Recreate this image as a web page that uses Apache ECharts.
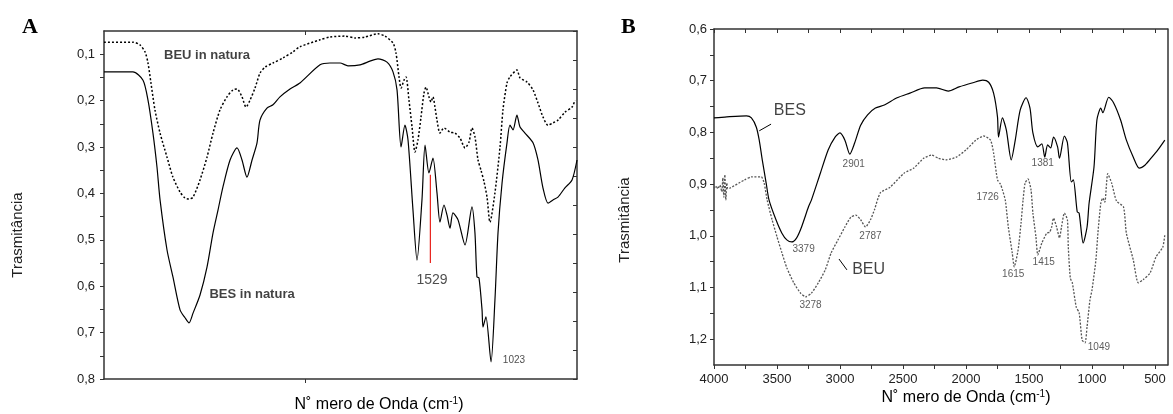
<!DOCTYPE html>
<html><head><meta charset="utf-8">
<script src="https://cdn.jsdelivr.net/npm/echarts@6/dist/echarts.min.js"></script>
<style>html,body{margin:0;padding:0;background:#fff}#c{width:1173px;height:414px}</style>
</head><body><div id="c"></div>
<script>
// ---------- Panel A data (wavenumber cm-1, transmittance) ----------
const aBesWave = [4300,4055,3970,3928,3886,3852,3826,3767,3717,3657,3615,3581,3547,3488,3429,3378,3336,3294,3234,3175,3133,3091,3048,3006,2981,2922,2871,2812,2727,2643,2473,2389,2304,2237,2135,2051,1983,1907,1856,1822,1788,1755,1729,1687,1653,1611,1585,1552,1518,1484,1459,1425,1399,1374,1349,1306,1247,1188,1163,1146,1129,1103,1095,1070,1027,994,968,934,892,867,841,808,782,740,672,630,588,545,503,461,402,342,300];
const aBes = [0.138,0.138,0.156,0.199,0.270,0.343,0.414,0.522,0.580,0.651,0.668,0.679,0.658,0.619,0.559,0.485,0.436,0.386,0.328,0.302,0.328,0.365,0.328,0.291,0.242,0.216,0.209,0.192,0.175,0.162,0.123,0.119,0.119,0.125,0.123,0.115,0.110,0.117,0.138,0.177,0.300,0.253,0.285,0.436,0.544,0.414,0.296,0.356,0.324,0.399,0.462,0.425,0.447,0.475,0.442,0.457,0.511,0.429,0.485,0.580,0.582,0.651,0.688,0.666,0.763,0.630,0.485,0.378,0.291,0.253,0.263,0.231,0.257,0.270,0.291,0.328,0.388,0.421,0.414,0.408,0.388,0.371,0.328];
const aBeuWave = [4300,4055,3996,3953,3928,3903,3869,3826,3767,3717,3657,3615,3581,3547,3488,3429,3378,3319,3260,3209,3175,3133,3099,3065,3023,2981,2938,2871,2786,2702,2643,2473,2389,2262,2177,2093,1983,1924,1856,1831,1805,1788,1763,1746,1721,1695,1670,1645,1619,1594,1577,1552,1535,1518,1501,1484,1459,1425,1374,1332,1289,1247,1213,1188,1163,1137,1112,1086,1061,1036,994,951,926,892,867,808,782,723,672,630,588,545,503,461,402,342,317];
const aBeu = [0.074,0.074,0.080,0.095,0.119,0.162,0.220,0.270,0.322,0.365,0.397,0.410,0.412,0.408,0.371,0.322,0.270,0.220,0.192,0.177,0.175,0.192,0.214,0.199,0.173,0.141,0.128,0.119,0.108,0.095,0.084,0.069,0.063,0.061,0.065,0.063,0.056,0.061,0.076,0.097,0.149,0.173,0.156,0.149,0.199,0.257,0.311,0.285,0.235,0.184,0.171,0.192,0.203,0.192,0.214,0.242,0.270,0.259,0.268,0.270,0.281,0.302,0.289,0.259,0.278,0.328,0.350,0.375,0.408,0.462,0.399,0.300,0.220,0.162,0.149,0.134,0.151,0.160,0.177,0.205,0.235,0.253,0.248,0.242,0.225,0.214,0.199];
const aYTicks = [0.1,0.2,0.3,0.4,0.5,0.6,0.7,0.8];
const aYMinor = [0.15,0.25,0.35,0.45,0.55,0.65,0.75];
const aXTicks = [2600];
// annotations [wave, value, text]
const aLabels = [[3429,0.102,'BEU in natura'],[3048,0.617,'BES in natura']];
const aPeakBig = [[1526,0.587,'1529']];
const aPeakSmall = [[833,0.759,'1023']];
const aRedLine = [[1540,0.36],[1540,0.55]];

// ---------- Panel B data ----------
const bBesWave = [4000,3898,3742,3703,3664,3641,3617,3586,3563,3508,3461,3422,3383,3344,3305,3250,3227,3156,3094,3039,3000,2961,2922,2883,2836,2781,2719,2648,2547,2445,2328,2234,2141,2055,1945,1867,1820,1781,1750,1742,1711,1680,1641,1609,1570,1523,1492,1469,1430,1398,1375,1352,1328,1305,1273,1258,1219,1195,1164,1148,1117,1102,1070,1039,1023,984,961,930,914,867,828,773,727,672,625,578,531,477,422];
const bBes = [0.772,0.770,0.768,0.772,0.790,0.815,0.853,0.898,0.931,0.969,0.995,1.008,1.012,1.004,0.983,0.944,0.931,0.879,0.834,0.809,0.801,0.815,0.842,0.820,0.786,0.766,0.753,0.747,0.733,0.724,0.714,0.714,0.720,0.712,0.704,0.699,0.703,0.724,0.770,0.809,0.772,0.795,0.853,0.815,0.757,0.733,0.753,0.801,0.828,0.822,0.848,0.824,0.830,0.809,0.828,0.850,0.807,0.820,0.896,0.892,0.954,0.956,1.014,0.983,0.937,0.867,0.776,0.753,0.762,0.732,0.743,0.776,0.815,0.848,0.869,0.863,0.850,0.834,0.815];
const bBeuWave = [4000,3984,3969,3953,3938,3930,3922,3914,3906,3898,3891,3875,3758,3703,3625,3602,3578,3539,3500,3461,3422,3367,3313,3273,3227,3172,3117,3070,3016,2961,2914,2875,2836,2797,2758,2727,2680,2602,2492,2414,2336,2273,2219,2156,2078,2000,1922,1859,1805,1781,1750,1727,1711,1688,1664,1633,1617,1586,1563,1547,1531,1508,1484,1469,1445,1430,1398,1359,1336,1320,1305,1281,1258,1242,1219,1195,1188,1172,1156,1125,1102,1078,1055,1039,1016,1000,969,953,930,914,898,875,844,805,750,727,672,633,594,539,492,438,422];
const bBeu = [0.908,0.904,0.909,0.902,0.915,0.888,0.925,0.882,0.931,0.898,0.909,0.908,0.892,0.886,0.886,0.898,0.931,0.969,1.002,1.033,1.062,1.091,1.111,1.118,1.111,1.091,1.066,1.033,1.008,0.983,0.964,0.960,0.969,0.983,0.969,0.950,0.917,0.906,0.879,0.869,0.850,0.844,0.850,0.853,0.848,0.834,0.815,0.807,0.815,0.840,0.892,0.900,0.911,0.931,0.983,1.033,1.060,1.027,0.975,0.931,0.898,0.890,0.911,0.956,1.002,1.037,1.014,0.995,0.993,0.983,0.966,0.983,1.004,0.983,0.956,0.969,1.022,1.082,1.091,1.138,1.149,1.202,1.207,1.176,1.124,1.105,1.047,0.995,0.937,0.927,0.935,0.880,0.898,0.933,0.944,0.995,1.047,1.091,1.085,1.072,1.041,1.022,0.998];
const bXTicks = [500,750,1000,1250,1500,1750,2000,2250,2500,2750,3000,3250,3500,3750,4000];
const bXLabels = [500,1000,1500,2000,2500,3000,3500,4000];
const bYTicks = [0.6,0.65,0.7,0.75,0.8,0.85,0.9,0.95,1.0,1.05,1.1,1.15,1.2];
const bYLabels = [0.6,0.7,0.8,0.9,1.0,1.1,1.2];
const bNames = [[3398,0.757,'BES'],[2773,1.066,'BEU']];
const bPeaks = [[2891,0.861,'2901'],[3289,1.026,'3379'],[3234,1.134,'3278'],[2758,1.000,'2787'],[1391,0.859,'1381'],[1828,0.925,'1726'],[1625,1.074,'1615'],[1383,1.051,'1415'],[945,1.215,'1049']];
const bLeaderBES = [[3641,0.797],[3547,0.784]];
const bLeaderBEU = [[3008,1.045],[2945,1.066]];

const zip = (w, v) => w.map((x, i) => [x, v[i]]);
const fmt = v => v.toFixed(1).replace('.', ',');
const FONT = 'Liberation Sans';
const AX = '#333';

const chart = echarts.init(document.getElementById('c'), null, {renderer: 'canvas'});

function labelSeries(data, grid, size, bold, color) {
  return {
    type: 'scatter', xAxisIndex: grid * 2, yAxisIndex: grid * 2, data: data,
    symbolSize: 0, silent: true, z: 5,
    label: {show: true, position: 'inside', formatter: p => p.data[2], fontFamily: FONT,
      fontSize: size, fontWeight: bold ? 'bold' : 'normal', color: color}
  };
}
function lineSeg(data, grid, color, w) {
  return {type: 'line', xAxisIndex: grid * 2, yAxisIndex: grid * 2, data: data, symbol: 'none',
    silent: true, lineStyle: {color: color, width: w}, z: 4};
}

const option = {
  animation: false,
  backgroundColor: '#fff',
  grid: [
    {left: 104, top: 31, width: 473, height: 348},
    {left: 714, top: 29, width: 458, height: 336}
  ],
  xAxis: [
    {type: 'value', gridIndex: 0, min: 300, max: 4300, inverse: true, position: 'bottom',
      axisLine: {lineStyle: {color: AX, width: 1.5}},
      axisTick: {show: true, customValues: aXTicks, length: 4, lineStyle: {color: AX}},
      axisLabel: {show: false}, splitLine: {show: false}},
    {type: 'value', gridIndex: 0, min: 300, max: 4300, inverse: true, position: 'top',
      axisLine: {show: true, onZero: false, lineStyle: {color: AX, width: 1.5}},
      axisTick: {show: true, inside: true, customValues: aXTicks, length: 4, lineStyle: {color: AX}},
      axisLabel: {show: false}, splitLine: {show: false}},
    {type: 'value', gridIndex: 1, min: 400, max: 4000, inverse: true, position: 'bottom',
      axisLine: {onZero: false, lineStyle: {color: AX, width: 1.5}},
      axisTick: {show: true, customValues: bXTicks, length: 4, lineStyle: {color: AX}},
      axisLabel: {show: true, customValues: bXLabels, formatter: v => String(Math.round(v)), margin: 8, fontFamily: FONT, fontSize: 13, color: '#222'},
      splitLine: {show: false}},
    {type: 'value', gridIndex: 1, min: 400, max: 4000, inverse: true, position: 'top',
      axisLine: {show: true, onZero: false, lineStyle: {color: AX, width: 1.5}},
      axisTick: {show: true, inside: true, customValues: bXTicks, length: 4, lineStyle: {color: AX}},
      axisLabel: {show: false}, splitLine: {show: false}}
  ],
  yAxis: [
    {type: 'value', gridIndex: 0, min: 0.05, max: 0.8, inverse: true, position: 'left',
      axisLine: {show: true, onZero: false, lineStyle: {color: AX, width: 1.5}},
      axisTick: {show: true, customValues: aYTicks.concat(aYMinor), length: 4, lineStyle: {color: AX}},
      axisLabel: {show: true, customValues: aYTicks, formatter: fmt, margin: 9, fontFamily: FONT, fontSize: 13, color: '#222'},
      splitLine: {show: false}},
    {type: 'value', gridIndex: 0, min: 0, max: 12, interval: 1, position: 'right',
      axisLine: {show: true, onZero: false, lineStyle: {color: AX, width: 1.5}},
      axisTick: {show: true, inside: true, length: 4, lineStyle: {color: AX}},
      axisLabel: {show: false}, splitLine: {show: false}},
    {type: 'value', gridIndex: 1, min: 0.6, max: 1.25, inverse: true, position: 'left',
      axisLine: {show: true, onZero: false, lineStyle: {color: AX, width: 1.5}},
      axisTick: {show: true, customValues: bYTicks, length: 4, lineStyle: {color: AX}},
      axisLabel: {show: true, customValues: bYLabels, formatter: fmt, margin: 7, fontFamily: FONT, fontSize: 13, color: '#222'},
      splitLine: {show: false}},
    {type: 'value', gridIndex: 1, min: 0.6, max: 1.25, inverse: true, position: 'right',
      axisLine: {show: true, onZero: false, lineStyle: {color: AX, width: 1.5}},
      axisTick: {show: false}, axisLabel: {show: false}, splitLine: {show: false}}
  ],
  series: [
    {name: 'BES in natura', type: 'line', xAxisIndex: 0, yAxisIndex: 0, data: zip(aBesWave, aBes),
      symbol: 'none', smooth: 0.25, lineStyle: {color: '#000', width: 1.2}},
    {name: 'BEU in natura', type: 'line', xAxisIndex: 0, yAxisIndex: 0, data: zip(aBeuWave, aBeu),
      symbol: 'none', smooth: 0.25, lineStyle: {color: '#000', width: 1.5, type: [2, 2]}},
    lineSeg(aRedLine, 0, '#e8201a', 1.2),
    labelSeries(aLabels, 0, 13, true, '#111'),
    labelSeries(aPeakBig, 0, 14, false, '#222'),
    labelSeries(aPeakSmall, 0, 10, false, '#222'),

    {name: 'BES', type: 'line', xAxisIndex: 2, yAxisIndex: 2, data: zip(bBesWave, bBes),
      symbol: 'none', smooth: 0.25, lineStyle: {color: '#000', width: 1.2}},
    {name: 'BEU', type: 'line', xAxisIndex: 2, yAxisIndex: 2, data: zip(bBeuWave, bBeu),
      symbol: 'none', smooth: 0.2, lineStyle: {color: '#555', width: 1.3, type: [2, 1.5]}},
    lineSeg(bLeaderBES, 1, '#000', 1),
    lineSeg(bLeaderBEU, 1, '#000', 1),
    labelSeries(bNames, 1, 16, false, '#111'),
    labelSeries(bPeaks, 1, 10, false, '#333')
  ],
  graphic: [
    {type: 'text', left: 22, top: 16, style: {text: 'A', font: 'bold 22px "Liberation Serif"', fill: '#000'}},
    {type: 'text', left: 621, top: 16, style: {text: 'B', font: 'bold 22px "Liberation Serif"', fill: '#000'}},
    {type: 'text', x: 18, y: 235, rotation: Math.PI / 2,
      style: {text: 'Trasmitância', font: '15px "Liberation Sans"', fill: '#222', align: 'center', verticalAlign: 'middle'}},
    {type: 'text', x: 625, y: 220, rotation: Math.PI / 2,
      style: {text: 'Trasmitância', font: '15px "Liberation Sans"', fill: '#222', align: 'center', verticalAlign: 'middle'}},
    {type: 'text', x: 379, y: 405,
      style: {text: '{a|N˚ mero de Onda (cm}{s|-1}{a|)}', align: 'center', verticalAlign: 'middle',
        rich: {a: {fontFamily: FONT, fontSize: 16, color: '#222'}, s: {fontFamily: FONT, fontSize: 10, color: '#222', verticalAlign: 'top', padding: [0, 0, 8, 0]}}}},
    {type: 'text', x: 966, y: 398,
      style: {text: '{a|N˚ mero de Onda (cm}{s|-1}{a|)}', align: 'center', verticalAlign: 'middle',
        rich: {a: {fontFamily: FONT, fontSize: 16, color: '#222'}, s: {fontFamily: FONT, fontSize: 10, color: '#222', verticalAlign: 'top', padding: [0, 0, 8, 0]}}}}
  ]
};
chart.setOption(option);
</script>
</body></html>
